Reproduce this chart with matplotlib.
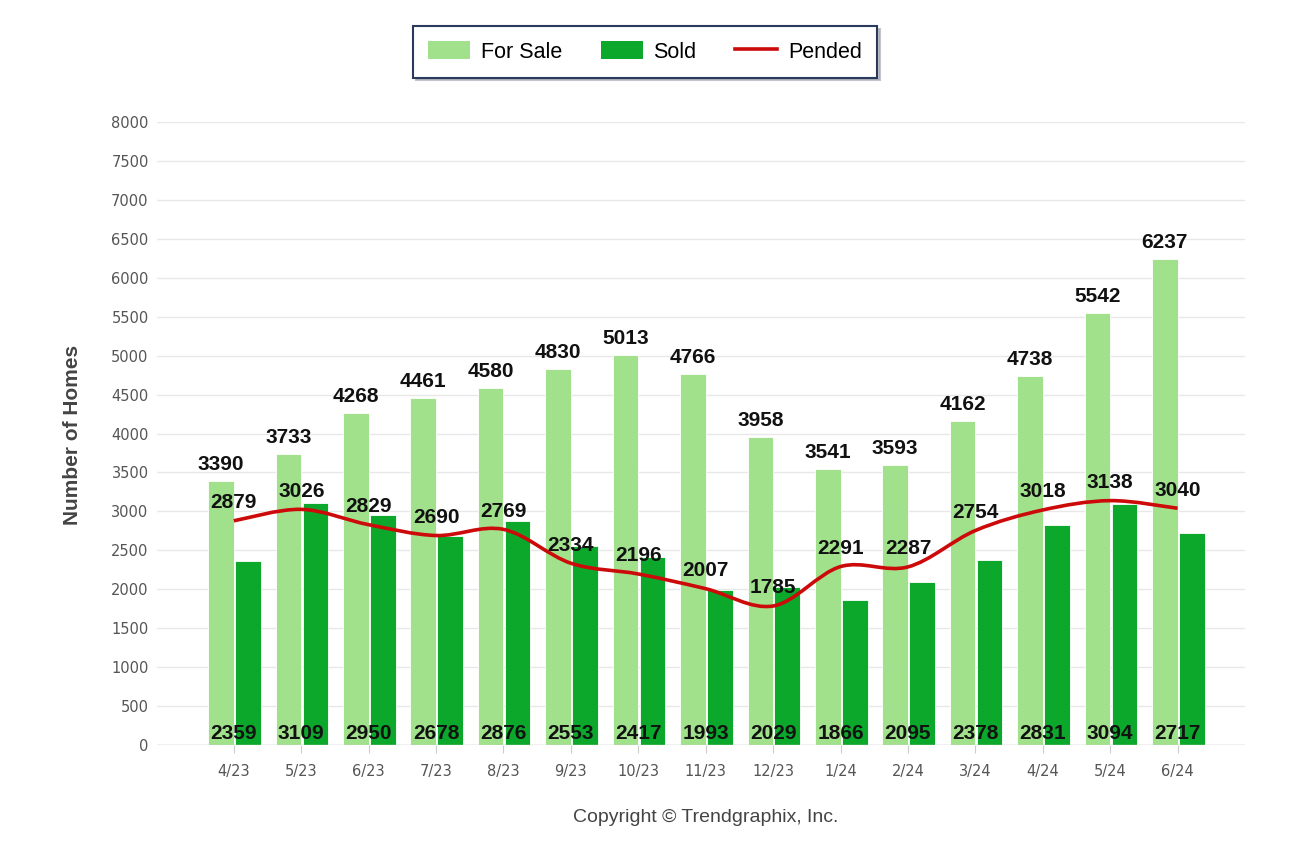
import matplotlib.pyplot as plt
from matplotlib.path import Path
from matplotlib.patches import PathPatch, Patch
from matplotlib.lines import Line2D
import numpy as np

months = ['4/23', '5/23', '6/23', '7/23', '8/23', '9/23', '10/23', '11/23',
          '12/23', '1/24', '2/24', '3/24', '4/24', '5/24', '6/24']
for_sale = [3390, 3733, 4268, 4461, 4580, 4830, 5013, 4766, 3958, 3541, 3593, 4162, 4738, 5542, 6237]
sold = [2359, 3109, 2950, 2678, 2876, 2553, 2417, 1993, 2029, 1866, 2095, 2378, 2831, 3094, 2717]
pended = [2879, 3026, 2829, 2690, 2769, 2334, 2196, 2007, 1785, 2291, 2287, 2754, 3018, 3138, 3040]

c_sale = '#a1e18c'
c_sold = '#0ba82b'
c_pend = '#cc0a0a'

fig = plt.figure(figsize=(12.92, 8.68), dpi=100)
ax = fig.add_axes([157 / 1292, 1 - 745 / 868, (1245 - 157) / 1292, (745 - 122) / 868])

x = np.arange(len(months))
w = 0.38
ax.bar(x - 0.19, for_sale, w, color=c_sale, edgecolor='white', linewidth=0.6, zorder=2)
ax.bar(x + 0.21, sold, w, color=c_sold, edgecolor='white', linewidth=0.6, zorder=2)

# smooth spline through the pended points (bezier segments)
pts = np.column_stack([x, pended]).astype(float)
verts = [tuple(pts[0])]
codes = [Path.MOVETO]
n = len(pts)
for i in range(n - 1):
    p0 = pts[i - 1] if i > 0 else pts[i]
    p1 = pts[i]
    p2 = pts[i + 1]
    p3 = pts[i + 2] if i + 2 < n else pts[i + 1]
    c1 = p1 + (p2 - p0) / 6.0
    c2 = p2 - (p3 - p1) / 6.0
    verts += [tuple(c1), tuple(c2), tuple(p2)]
    codes += [Path.CURVE4] * 3
ax.add_patch(PathPatch(Path(verts, codes), facecolor='none', edgecolor=c_pend, lw=2.6, zorder=4))

lab = dict(ha='center', fontsize=15, fontweight='bold', color='#111111',
           family='Liberation Sans', zorder=6)
for i in range(n):
    ax.text(x[i] - 0.19, for_sale[i] + 90, str(for_sale[i]), va='bottom', **lab)
    ax.text(x[i], pended[i] + 110, str(pended[i]), va='bottom', **lab)
    ax.text(x[i], 20, str(sold[i]), va='bottom', **lab)

ax.set_xlim(-1.14, 15.0)
ax.set_ylim(0, 8000)
ax.set_yticks(range(0, 8001, 500))
ax.set_xticks(x)
ax.set_xticklabels(months)
for sp in ax.spines.values():
    sp.set_visible(False)
ax.axhline(0, color='#cccccc', lw=1, zorder=3)
ax.grid(axis='y', color='#e8e8e8', lw=1, zorder=0)
ax.set_axisbelow(True)
ax.tick_params(axis='y', length=0, pad=6, labelsize=10.5, labelcolor='#555555')
ax.tick_params(axis='x', length=6, color='#cccccc', pad=8, labelsize=10.5, labelcolor='#555555')
for t in ax.get_xticklabels() + ax.get_yticklabels():
    t.set_family('DejaVu Sans')

fig.text(73 / 1292, 1 - 435 / 868, 'Number of Homes', rotation=90, ha='center', va='center',
         fontsize=15, fontweight='bold', color='#444444', family='Liberation Sans')
fig.text(706 / 1292, 1 - 818 / 868, 'Copyright \u00a9 Trendgraphix, Inc.', ha='center', va='center',
         fontsize=14, color='#444444', family='Liberation Sans')

handles = [Patch(facecolor=c_sale), Patch(facecolor=c_sold), Line2D([], [], color=c_pend, lw=2.6)]
leg = fig.legend(handles, ['For Sale', 'Sold', 'Pended'], loc='center', bbox_to_anchor=(645 / 1292, 1 - 52 / 868),
                 ncol=3, frameon=True, fancybox=False, shadow={'color': '#9aa0aa', 'alpha': 0.6},
                 prop={'family': 'Liberation Sans', 'size': 15.5},
                 handlelength=1.95, handleheight=0.85, columnspacing=1.8, borderpad=0.7, handletextpad=0.5,
                 borderaxespad=0)
leg.get_frame().set_edgecolor('#2a3a5c')
leg.get_frame().set_linewidth(1.5)

fig.savefig('out.png', dpi=100, facecolor='white')
